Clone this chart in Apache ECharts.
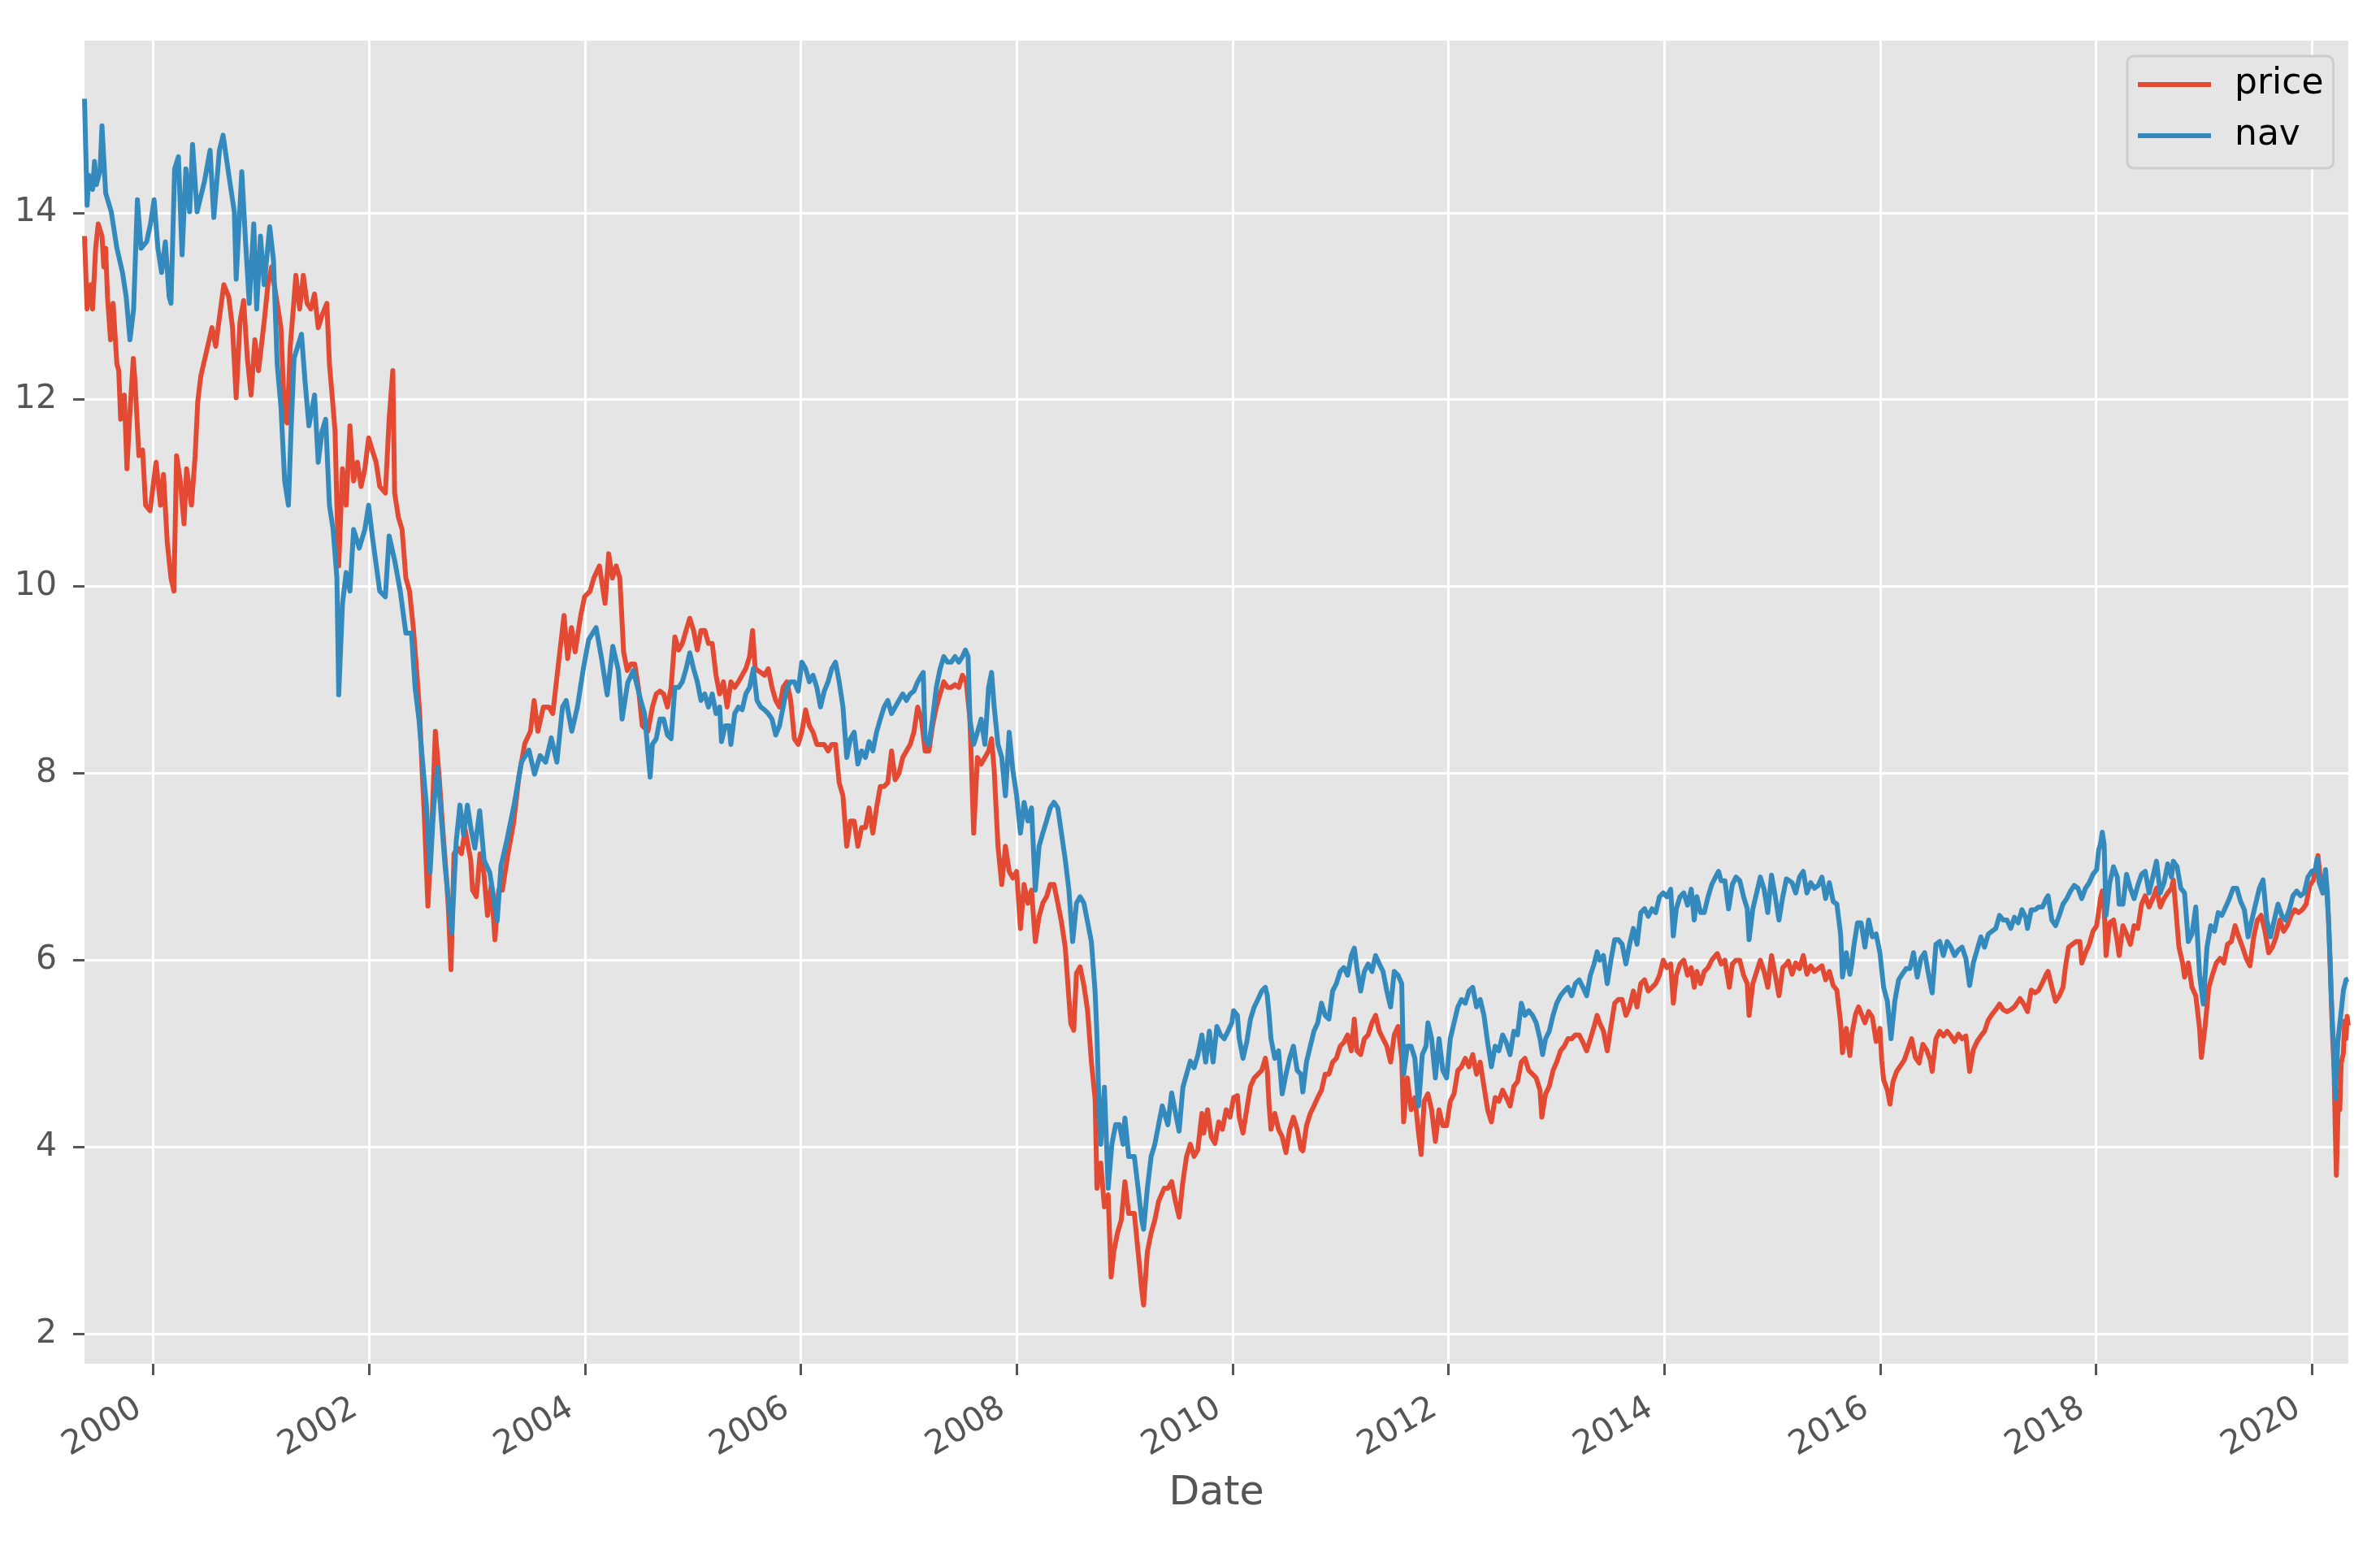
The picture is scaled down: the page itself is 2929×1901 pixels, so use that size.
<!DOCTYPE html>
<html><head><meta charset="utf-8">
<script src="https://cdn.jsdelivr.net/npm/echarts@6/dist/echarts.min.js"></script>
<style>html,body{margin:0;padding:0;background:#fff}#chart{width:2929px;height:1901px}</style>
</head><body><div id="chart"></div>
<script>
// Dates are decimal years
const priceYears = [
1999.365,1999.389,1999.423,1999.440,1999.468,1999.492,1999.527,1999.544,1999.561,1999.578,1999.606,1999.630,1999.665,1999.682,1999.700,1999.734,1999.758,1999.782,1999.817,1999.834,1999.869,1999.903,1999.931,1999.972,
2000.028,2000.069,2000.097,2000.131,2000.166,2000.193,2000.218,2000.252,2000.287,2000.311,2000.356,2000.390,2000.414,2000.442,2000.494,2000.546,2000.580,2000.632,2000.656,2000.701,2000.736,2000.770,2000.805,2000.839,2000.874,2000.908,2000.943,2000.977,
2001.029,2001.064,2001.098,2001.150,2001.185,2001.219,2001.243,2001.271,2001.299,2001.323,2001.358,2001.392,2001.427,2001.461,2001.496,2001.530,2001.565,2001.610,2001.634,2001.668,2001.686,2001.703,2001.720,2001.755,2001.789,2001.824,2001.858,2001.893,2001.927,2001.962,2001.997,
2002.031,2002.066,2002.100,2002.152,2002.187,2002.221,2002.238,2002.273,2002.307,2002.342,2002.376,2002.411,2002.442,2002.470,2002.494,2002.511,2002.546,2002.580,2002.615,2002.649,2002.684,2002.718,2002.736,2002.760,2002.788,2002.822,2002.857,2002.891,2002.943,2002.960,2002.995,
2003.029,2003.064,2003.098,2003.133,2003.167,2003.202,2003.236,2003.288,2003.340,2003.392,2003.444,2003.496,2003.530,2003.565,2003.616,2003.668,2003.703,2003.755,2003.807,2003.841,2003.876,2003.910,2003.962,2003.997,
2004.048,2004.083,2004.135,2004.187,2004.221,2004.255,2004.290,2004.324,2004.359,2004.393,2004.428,2004.462,2004.497,2004.532,2004.584,2004.626,2004.661,2004.696,2004.730,2004.765,2004.799,2004.834,2004.869,2004.903,2004.938,2004.972,
2005.007,2005.042,2005.076,2005.111,2005.145,2005.180,2005.215,2005.249,2005.284,2005.318,2005.353,2005.388,2005.422,2005.457,2005.491,2005.526,2005.554,2005.578,2005.630,2005.664,2005.699,2005.734,2005.768,2005.803,2005.837,2005.872,2005.907,2005.941,2005.976,
2006.010,2006.045,2006.080,2006.114,2006.149,2006.183,2006.218,2006.253,2006.287,2006.322,2006.356,2006.391,2006.426,2006.460,2006.495,2006.529,2006.564,2006.599,2006.633,2006.668,2006.702,2006.737,2006.772,2006.806,2006.841,2006.875,2006.910,2006.945,2006.979,
2007.014,2007.048,2007.083,2007.118,2007.152,2007.187,2007.221,2007.256,2007.291,2007.325,2007.360,2007.394,2007.429,2007.464,2007.498,2007.533,2007.567,2007.602,2007.637,2007.671,2007.706,2007.740,2007.768,2007.792,2007.827,2007.862,2007.896,2007.931,2007.965,
2008.000,2008.035,2008.069,2008.104,2008.138,2008.173,2008.208,2008.242,2008.277,2008.311,2008.346,2008.381,2008.415,2008.450,2008.484,2008.502,2008.529,2008.554,2008.588,2008.623,2008.657,2008.692,2008.727,2008.744,2008.779,2008.813,2008.848,2008.875,2008.900,2008.934,2008.969,
2009.003,2009.038,2009.090,2009.125,2009.159,2009.176,2009.211,2009.246,2009.280,2009.315,2009.367,2009.401,2009.436,2009.471,2009.505,2009.540,2009.574,2009.609,2009.644,2009.678,2009.716,2009.733,2009.768,2009.803,2009.837,2009.872,2009.906,2009.941,2009.976,
2010.010,2010.045,2010.062,2010.097,2010.131,2010.166,2010.201,2010.235,2010.270,2010.304,2010.322,2010.339,2010.356,2010.391,2010.426,2010.460,2010.495,2010.529,2010.564,2010.599,2010.633,2010.651,2010.685,2010.720,2010.754,2010.789,2010.824,2010.858,2010.893,2010.927,2010.962,2010.997,
2011.031,2011.066,2011.100,2011.128,2011.152,2011.187,2011.221,2011.256,2011.291,2011.325,2011.360,2011.394,2011.429,2011.464,2011.498,2011.533,2011.567,2011.585,2011.619,2011.654,2011.689,2011.723,2011.747,2011.775,2011.810,2011.844,2011.879,2011.913,2011.948,2011.983,
2012.017,2012.052,2012.087,2012.121,2012.156,2012.190,2012.225,2012.260,2012.294,2012.329,2012.363,2012.398,2012.433,2012.467,2012.502,2012.536,2012.571,2012.606,2012.640,2012.675,2012.709,2012.744,2012.779,2012.813,2012.848,2012.865,2012.900,2012.934,2012.969,
2013.003,2013.038,2013.073,2013.107,2013.142,2013.176,2013.211,2013.246,2013.280,2013.315,2013.349,2013.377,2013.401,2013.436,2013.471,2013.505,2013.540,2013.574,2013.609,2013.644,2013.678,2013.713,2013.747,2013.782,2013.817,2013.851,2013.886,2013.920,2013.955,2013.990,
2014.024,2014.059,2014.083,2014.111,2014.145,2014.180,2014.215,2014.249,2014.277,2014.301,2014.336,2014.370,2014.405,2014.439,2014.474,2014.491,2014.526,2014.561,2014.602,2014.630,2014.664,2014.699,2014.734,2014.768,2014.785,2014.820,2014.855,2014.889,2014.924,2014.958,2014.993,
2015.028,2015.062,2015.097,2015.131,2015.148,2015.183,2015.217,2015.252,2015.287,2015.321,2015.356,2015.390,2015.425,2015.460,2015.494,2015.529,2015.564,2015.598,2015.633,2015.650,2015.685,2015.719,2015.737,2015.771,2015.799,2015.858,2015.893,2015.927,2015.962,2015.997,
2016.014,2016.031,2016.066,2016.090,2016.118,2016.152,2016.187,2016.222,2016.256,2016.291,2016.325,2016.360,2016.395,2016.429,2016.464,2016.481,2016.516,2016.551,2016.585,2016.620,2016.655,2016.689,2016.724,2016.758,2016.793,2016.828,2016.862,2016.897,2016.932,2016.966,
2017.001,2017.035,2017.070,2017.105,2017.139,2017.174,2017.209,2017.243,2017.295,2017.330,2017.364,2017.399,2017.434,2017.468,2017.503,2017.538,2017.555,2017.590,2017.624,2017.659,2017.693,2017.717,2017.745,2017.780,2017.815,2017.849,2017.867,2017.901,2017.936,2017.971,
2018.005,2018.040,2018.057,2018.074,2018.092,2018.126,2018.161,2018.196,2018.213,2018.248,2018.282,2018.317,2018.352,2018.386,2018.421,2018.455,2018.490,2018.525,2018.559,2018.594,2018.629,2018.663,2018.698,2018.715,2018.743,2018.767,2018.801,2018.819,2018.854,2018.888,2018.923,2018.958,2018.975,
2019.010,2019.044,2019.079,2019.113,2019.148,2019.183,2019.217,2019.252,2019.287,2019.321,2019.356,2019.390,2019.425,2019.460,2019.494,2019.529,2019.564,2019.598,2019.633,2019.667,2019.702,2019.737,2019.771,2019.806,2019.841,2019.875,2019.910,2019.945,2019.979,
2020.014,2020.055,2020.083,2020.100,2020.135,2020.153,2020.170,2020.187,2020.204,2020.215,2020.225,2020.235,2020.245,2020.257,2020.270,2020.290,2020.302,2020.315,2020.325,2020.336
];
const priceValues = [
13.75,12.97,13.23,12.97,13.62,13.88,13.75,13.42,13.62,13.10,12.64,13.03,12.38,12.31,11.79,12.05,11.26,11.79,12.44,12.18,11.40,11.46,10.87,10.81,
11.33,10.87,11.20,10.48,10.09,9.95,11.40,11.13,10.67,11.26,10.87,11.40,11.98,12.25,12.51,12.77,12.57,13.03,13.23,13.10,12.77,12.02,12.83,13.06,12.44,12.05,12.64,12.31,
12.83,13.23,13.42,13.03,12.77,11.79,11.75,12.57,12.97,13.33,12.97,13.33,13.03,12.97,13.13,12.77,12.90,13.03,12.38,11.92,11.66,10.87,10.22,11.26,10.87,11.72,11.13,11.33,11.07,11.26,11.59,
11.46,11.33,11.07,11.00,11.79,12.31,11.00,10.74,10.61,10.09,9.95,9.56,9.10,8.64,7.99,7.60,6.58,7.34,8.45,7.99,7.40,6.88,6.55,5.90,7.14,7.20,7.14,7.40,7.07,6.75,6.68,
7.14,6.94,6.48,6.81,6.22,6.75,6.75,7.14,7.47,7.99,8.32,8.45,8.78,8.45,8.71,8.71,8.64,9.17,9.69,9.23,9.56,9.30,9.69,9.89,
9.95,10.09,10.22,9.82,10.35,10.09,10.22,10.09,9.30,9.10,9.17,9.17,8.91,8.51,8.45,8.71,8.85,8.88,8.85,8.71,8.92,9.46,9.32,9.39,9.53,9.66,
9.53,9.32,9.53,9.53,9.39,9.39,9.05,8.85,8.98,8.71,8.98,8.92,8.98,9.05,9.12,9.25,9.53,9.12,9.08,9.05,9.12,8.92,8.78,8.71,8.92,8.98,8.78,8.37,8.31,
8.44,8.68,8.51,8.44,8.31,8.31,8.31,8.24,8.31,8.31,7.90,7.76,7.22,7.49,7.49,7.22,7.42,7.42,7.63,7.36,7.63,7.86,7.86,7.90,8.24,7.93,8.00,8.17,8.24,
8.31,8.44,8.71,8.58,8.24,8.24,8.51,8.71,8.85,8.98,8.92,8.92,8.95,8.92,9.05,8.98,8.58,7.36,8.17,8.10,8.17,8.24,8.37,8.03,7.22,6.81,7.22,6.95,6.88,
6.95,6.34,6.81,6.61,6.75,6.20,6.47,6.61,6.68,6.81,6.81,6.61,6.41,6.14,5.59,5.32,5.25,5.86,5.93,5.73,5.46,4.92,4.51,3.56,3.83,3.36,3.49,2.61,2.88,3.08,3.22,
3.63,3.29,3.29,2.88,2.47,2.31,2.88,3.08,3.22,3.42,3.56,3.56,3.63,3.42,3.25,3.63,3.90,4.03,3.90,3.97,4.36,4.15,4.40,4.11,4.04,4.27,4.19,4.40,4.32,
4.53,4.55,4.32,4.15,4.40,4.65,4.74,4.78,4.82,4.95,4.82,4.44,4.19,4.36,4.19,4.11,3.94,4.19,4.32,4.19,3.98,3.96,4.23,4.36,4.44,4.53,4.61,4.78,4.78,4.91,4.95,5.08,
5.12,5.20,5.03,5.37,5.03,4.99,5.16,5.20,5.33,5.41,5.24,5.16,5.08,4.91,5.20,5.29,4.95,4.27,4.74,4.40,4.53,4.15,3.92,4.49,4.57,4.40,4.06,4.40,4.23,4.23,
4.49,4.57,4.82,4.86,4.95,4.86,4.99,4.78,4.91,4.65,4.40,4.27,4.53,4.49,4.61,4.53,4.44,4.65,4.70,4.91,4.95,4.82,4.78,4.74,4.61,4.32,4.57,4.65,4.82,
4.91,5.03,5.08,5.16,5.16,5.20,5.20,5.12,5.03,5.16,5.29,5.41,5.33,5.24,5.03,5.29,5.54,5.58,5.58,5.41,5.50,5.67,5.50,5.75,5.79,5.67,5.71,5.75,5.84,6.00,
5.92,5.96,5.54,5.84,5.96,6.00,5.84,5.92,5.71,5.88,5.75,5.88,5.92,6.00,6.05,6.07,5.96,6.00,5.71,5.96,6.00,6.00,5.84,5.75,5.41,5.75,5.88,6.00,5.88,5.71,6.05,
5.84,5.62,5.92,5.96,5.99,5.85,5.97,5.91,6.05,5.85,5.94,5.88,5.91,5.94,5.79,5.88,5.73,5.68,5.33,5.01,5.27,4.98,5.21,5.42,5.50,5.33,5.45,5.39,5.13,5.27,
4.93,4.72,4.61,4.46,4.70,4.81,4.87,4.93,5.04,5.16,4.96,4.90,5.10,5.04,4.93,4.81,5.16,5.24,5.19,5.24,5.19,5.13,5.21,5.16,5.19,4.81,5.04,5.13,5.19,5.24,
5.36,5.42,5.47,5.53,5.47,5.45,5.47,5.50,5.59,5.53,5.45,5.68,5.65,5.68,5.76,5.85,5.88,5.71,5.56,5.62,5.71,5.94,6.14,6.17,6.20,6.20,5.97,6.08,6.17,6.31,
6.37,6.66,6.74,6.57,6.05,6.40,6.43,6.20,6.05,6.37,6.28,6.17,6.37,6.34,6.60,6.69,6.57,6.66,6.77,6.57,6.66,6.72,6.77,6.86,6.48,6.14,5.97,5.82,5.97,5.71,5.62,5.27,4.96,
5.30,5.71,5.85,5.97,6.02,5.97,6.17,6.20,6.37,6.25,6.14,6.02,5.94,6.25,6.43,6.48,6.31,6.08,6.14,6.25,6.43,6.31,6.37,6.48,6.54,6.51,6.54,6.60,6.80,
6.86,7.12,6.80,6.72,6.77,6.43,5.88,5.27,4.84,4.20,3.70,4.10,4.60,4.40,4.90,5.00,5.35,5.16,5.40,5.30
];
const navYears = [
1999.365,1999.389,1999.406,1999.440,1999.458,1999.475,1999.509,1999.527,1999.561,1999.613,1999.665,1999.717,1999.751,1999.786,1999.820,1999.855,1999.889,1999.941,1999.976,
2000.010,2000.045,2000.079,2000.114,2000.149,2000.166,2000.200,2000.235,2000.269,2000.304,2000.339,2000.366,2000.408,2000.477,2000.528,2000.563,2000.615,2000.649,2000.701,2000.753,2000.770,2000.822,2000.857,2000.891,2000.933,2000.960,2000.995,
2001.029,2001.081,2001.116,2001.150,2001.185,2001.219,2001.254,2001.278,2001.306,2001.340,2001.375,2001.409,2001.444,2001.496,2001.530,2001.565,2001.599,2001.634,2001.668,2001.703,2001.720,2001.755,2001.789,2001.824,2001.858,2001.910,2001.962,2001.997,
2002.031,2002.100,2002.152,2002.187,2002.238,2002.290,2002.342,2002.394,2002.428,2002.463,2002.497,2002.532,2002.566,2002.601,2002.636,2002.670,2002.705,2002.739,2002.767,2002.808,2002.843,2002.877,2002.912,2002.946,2002.981,
2003.026,2003.067,2003.119,2003.154,2003.188,2003.223,2003.275,2003.344,2003.413,2003.482,2003.534,2003.585,2003.637,2003.689,2003.741,2003.793,2003.827,2003.879,2003.931,2003.983,
2004.035,2004.104,2004.155,2004.207,2004.259,2004.311,2004.345,2004.397,2004.449,2004.518,2004.553,2004.605,2004.626,2004.661,2004.696,2004.730,2004.765,2004.799,2004.834,2004.869,2004.903,2004.938,2004.972,
2005.007,2005.042,2005.076,2005.111,2005.145,2005.180,2005.215,2005.249,2005.266,2005.301,2005.336,2005.353,2005.388,2005.422,2005.457,2005.491,2005.526,2005.561,2005.595,2005.630,2005.664,2005.699,2005.734,2005.768,2005.803,2005.837,2005.872,2005.907,2005.941,2005.976,
2006.010,2006.045,2006.080,2006.114,2006.149,2006.183,2006.218,2006.253,2006.287,2006.322,2006.356,2006.391,2006.426,2006.460,2006.495,2006.529,2006.564,2006.599,2006.633,2006.668,2006.702,2006.737,2006.772,2006.806,2006.841,2006.875,2006.910,2006.945,2006.979,
2007.014,2007.048,2007.083,2007.118,2007.135,2007.152,2007.187,2007.221,2007.256,2007.291,2007.325,2007.360,2007.394,2007.429,2007.464,2007.498,2007.526,2007.550,2007.567,2007.602,2007.637,2007.671,2007.706,2007.740,2007.768,2007.792,2007.827,2007.862,2007.896,2007.931,2007.965,
2008.000,2008.035,2008.069,2008.104,2008.138,2008.173,2008.208,2008.242,2008.277,2008.311,2008.346,2008.381,2008.415,2008.450,2008.484,2008.519,2008.554,2008.588,2008.623,2008.657,2008.692,2008.727,2008.744,2008.761,2008.779,2008.813,2008.848,2008.882,2008.917,2008.952,2008.986,
2009.003,2009.038,2009.090,2009.125,2009.159,2009.176,2009.211,2009.246,2009.280,2009.315,2009.349,2009.401,2009.436,2009.471,2009.505,2009.540,2009.574,2009.609,2009.644,2009.678,2009.716,2009.751,2009.785,2009.820,2009.855,2009.889,2009.924,2009.958,2009.993,
2010.010,2010.045,2010.062,2010.097,2010.131,2010.166,2010.201,2010.235,2010.270,2010.304,2010.322,2010.339,2010.356,2010.391,2010.426,2010.460,2010.495,2010.529,2010.564,2010.599,2010.633,2010.651,2010.685,2010.720,2010.754,2010.789,2010.824,2010.858,2010.893,2010.927,2010.962,2010.997,
2011.031,2011.066,2011.100,2011.128,2011.152,2011.187,2011.221,2011.256,2011.291,2011.325,2011.360,2011.394,2011.429,2011.464,2011.498,2011.533,2011.567,2011.585,2011.619,2011.654,2011.689,2011.723,2011.758,2011.792,2011.810,2011.844,2011.879,2011.913,2011.948,2011.983,
2012.017,2012.052,2012.087,2012.121,2012.156,2012.190,2012.225,2012.260,2012.294,2012.329,2012.363,2012.398,2012.433,2012.467,2012.502,2012.536,2012.571,2012.606,2012.640,2012.675,2012.709,2012.744,2012.779,2012.813,2012.848,2012.872,2012.900,2012.934,2012.969,
2013.003,2013.038,2013.073,2013.107,2013.142,2013.176,2013.211,2013.246,2013.280,2013.315,2013.349,2013.377,2013.401,2013.436,2013.471,2013.505,2013.540,2013.574,2013.609,2013.644,2013.678,2013.713,2013.747,2013.782,2013.817,2013.851,2013.886,2013.920,2013.955,2013.990,
2014.024,2014.059,2014.083,2014.111,2014.145,2014.180,2014.215,2014.249,2014.277,2014.301,2014.336,2014.370,2014.405,2014.439,2014.474,2014.502,2014.526,2014.561,2014.595,2014.630,2014.664,2014.699,2014.734,2014.768,2014.785,2014.820,2014.855,2014.889,2014.924,2014.958,2014.993,
2015.028,2015.062,2015.097,2015.131,2015.148,2015.183,2015.217,2015.252,2015.287,2015.321,2015.356,2015.390,2015.425,2015.460,2015.494,2015.529,2015.564,2015.598,2015.633,2015.650,2015.685,2015.719,2015.737,2015.754,2015.789,2015.823,2015.858,2015.893,2015.927,2015.962,2015.997,
2016.031,2016.066,2016.100,2016.135,2016.170,2016.204,2016.239,2016.274,2016.308,2016.343,2016.377,2016.412,2016.447,2016.481,2016.516,2016.551,2016.585,2016.620,2016.655,2016.689,2016.724,2016.758,2016.793,2016.828,2016.862,2016.897,2016.932,2016.966,
2017.001,2017.035,2017.070,2017.105,2017.139,2017.174,2017.209,2017.243,2017.278,2017.313,2017.347,2017.364,2017.399,2017.434,2017.468,2017.503,2017.538,2017.555,2017.590,2017.624,2017.659,2017.693,2017.728,2017.763,2017.797,2017.832,2017.867,2017.901,2017.936,2017.971,
2018.005,2018.023,2018.040,2018.057,2018.074,2018.092,2018.126,2018.161,2018.196,2018.213,2018.248,2018.282,2018.317,2018.352,2018.386,2018.421,2018.455,2018.490,2018.525,2018.559,2018.594,2018.629,2018.663,2018.698,2018.715,2018.750,2018.784,2018.819,2018.854,2018.888,2018.923,2018.958,2018.992,
2019.027,2019.061,2019.096,2019.131,2019.165,2019.200,2019.235,2019.269,2019.304,2019.338,2019.373,2019.408,2019.442,2019.477,2019.512,2019.546,2019.581,2019.616,2019.650,2019.685,2019.719,2019.754,2019.789,2019.823,2019.858,2019.893,2019.927,2019.962,2019.997,
2020.031,2020.048,2020.066,2020.100,2020.125,2020.142,2020.163,2020.180,2020.197,2020.215,2020.239,2020.267,2020.291,2020.315,2020.336
];
const navValues = [
15.22,14.08,14.40,14.25,14.55,14.30,14.45,14.93,14.21,14.01,13.62,13.36,13.10,12.64,12.97,14.14,13.62,13.69,13.88,
14.14,13.62,13.36,13.69,13.10,13.03,14.47,14.60,13.55,14.47,14.01,14.73,14.01,14.34,14.67,13.95,14.67,14.83,14.41,14.01,13.29,14.44,13.69,13.03,13.88,12.97,13.75,
13.23,13.85,13.49,12.38,11.92,11.13,10.87,11.66,12.44,12.57,12.70,12.18,11.72,12.05,11.33,11.66,11.79,10.87,10.61,10.09,8.84,9.82,10.15,9.95,10.61,10.41,10.61,10.87,
10.54,9.95,9.89,10.54,10.28,9.95,9.50,9.50,8.91,8.58,8.12,7.66,6.94,7.66,8.06,7.53,7.01,6.62,6.29,7.27,7.66,7.34,7.66,7.40,7.20,
7.60,7.07,6.94,6.68,6.42,7.01,7.27,7.66,8.12,8.25,7.99,8.19,8.12,8.38,8.12,8.71,8.78,8.45,8.71,9.10,
9.43,9.56,9.23,8.84,9.36,9.10,8.58,8.97,9.10,8.78,8.64,7.96,8.31,8.37,8.58,8.58,8.41,8.37,8.92,8.92,8.98,9.12,9.29,
9.12,8.98,8.78,8.85,8.71,8.85,8.64,8.71,8.34,8.51,8.51,8.31,8.64,8.71,8.68,8.85,8.92,9.12,8.78,8.71,8.68,8.64,8.58,8.41,8.51,8.71,8.92,8.98,8.98,8.88,
9.19,9.12,8.98,9.05,8.92,8.71,8.88,8.98,9.12,9.19,8.98,8.71,8.17,8.37,8.44,8.10,8.24,8.17,8.34,8.24,8.44,8.58,8.71,8.78,8.64,8.71,8.78,8.85,8.78,
8.85,8.88,8.98,9.05,9.08,8.37,8.31,8.58,8.92,9.12,9.25,9.19,9.19,9.25,9.19,9.25,9.32,9.25,8.58,8.31,8.44,8.58,8.31,8.92,9.08,8.71,8.31,8.17,7.76,8.44,8.03,
7.76,7.36,7.69,7.49,7.63,6.75,7.22,7.36,7.49,7.63,7.69,7.63,7.36,7.08,6.75,6.20,6.61,6.68,6.61,6.41,6.20,5.66,5.19,4.51,4.03,4.64,3.56,4.03,4.24,4.24,4.03,
4.31,3.90,3.90,3.56,3.22,3.12,3.56,3.90,4.03,4.24,4.44,4.24,4.58,4.37,4.17,4.64,4.78,4.92,4.85,4.98,5.20,4.91,5.24,4.91,5.29,5.20,5.16,5.24,5.33,
5.46,5.41,5.16,4.95,5.12,5.37,5.50,5.58,5.67,5.71,5.62,5.41,5.16,4.95,5.03,4.57,4.78,4.95,5.08,4.82,4.78,4.59,4.91,5.08,5.24,5.33,5.54,5.41,5.37,5.67,5.75,5.88,
5.92,5.84,6.05,6.13,5.92,5.67,5.88,5.96,5.88,6.05,5.96,5.88,5.67,5.50,5.88,5.84,5.75,4.78,5.08,5.08,4.95,4.44,4.99,5.08,5.33,5.16,4.74,5.16,4.82,4.74,
5.16,5.33,5.50,5.58,5.54,5.67,5.71,5.50,5.58,5.41,5.12,4.86,5.08,5.03,5.20,5.12,4.99,5.24,5.20,5.54,5.41,5.46,5.41,5.33,5.16,4.99,5.16,5.24,5.41,
5.54,5.62,5.67,5.71,5.62,5.75,5.79,5.71,5.62,5.84,5.96,6.09,6.00,6.05,5.75,6.00,6.22,6.22,6.17,5.96,6.17,6.34,6.17,6.51,6.55,6.47,6.55,6.51,6.68,6.72,
6.68,6.76,6.26,6.55,6.68,6.72,6.59,6.76,6.43,6.68,6.51,6.51,6.68,6.81,6.89,6.95,6.85,6.85,6.55,6.81,6.89,6.85,6.68,6.55,6.22,6.55,6.72,6.89,6.76,6.51,6.91,
6.68,6.43,6.68,6.87,6.86,6.83,6.72,6.89,6.95,6.72,6.83,6.77,6.80,6.89,6.66,6.83,6.63,6.60,6.28,5.82,6.08,5.85,5.97,6.14,6.40,6.40,6.14,6.43,6.25,6.28,6.08,
5.71,5.56,5.16,5.56,5.79,5.85,5.91,5.91,6.08,5.82,6.02,6.08,5.85,5.65,6.17,6.20,6.05,6.20,6.14,6.05,6.11,6.14,6.02,5.73,5.97,6.11,6.25,6.14,
6.28,6.31,6.34,6.48,6.43,6.43,6.34,6.46,6.40,6.54,6.46,6.34,6.54,6.54,6.57,6.57,6.66,6.69,6.43,6.37,6.48,6.60,6.66,6.74,6.80,6.77,6.66,6.77,6.83,6.92,
6.97,7.18,7.24,7.37,7.24,6.48,6.83,7.00,6.89,6.60,6.60,6.92,6.77,6.66,6.80,6.92,6.95,6.72,6.89,7.06,6.72,6.83,7.03,6.89,7.06,7.00,6.77,6.72,6.20,6.28,6.57,5.85,5.53,
6.14,6.37,6.31,6.51,6.48,6.57,6.66,6.77,6.77,6.63,6.54,6.25,6.43,6.60,6.77,6.86,6.43,6.25,6.43,6.60,6.48,6.43,6.54,6.69,6.74,6.69,6.72,6.89,6.95,
6.97,7.09,6.83,6.72,6.97,6.72,6.14,5.56,5.13,4.52,5.13,5.42,5.68,5.79,5.80
];
const seriesNames = ['price', 'nav'];
const seriesColors = ['#E24A33', '#348ABD'];
const xTickYears = [2000, 2002, 2004, 2006, 2008, 2010, 2012, 2014, 2016, 2018, 2020];
const yTickValues = [2, 4, 6, 8, 10, 12, 14];
const xRange = [1999.365, 2020.336];
const yRange = [1.681, 15.842];
const xAxisTitle = 'Date';

function pairs(xs, ys) { return xs.map((x, i) => [x, ys[i]]); }

const FONT = 'DejaVu Sans';
const chart = echarts.init(document.getElementById('chart'), null, { renderer: 'canvas' });
chart.setOption({
  animation: false,
  backgroundColor: '#FFFFFF',
  grid: { left: 104, top: 50, right: 39, bottom: 223, show: true, backgroundColor: '#E5E5E5', borderWidth: 0, containLabel: false },
  legend: {
    data: seriesNames, orient: 'vertical', left: 2618, top: 69,
    backgroundColor: '#E5E5E5', borderColor: '#CDCDCD', borderWidth: 3, borderRadius: 8,
    padding: [13, 12, 18, 13], itemGap: 19, itemWidth: 90, itemHeight: 6,
    icon: 'rect', itemStyle: { borderWidth: 0 },
    textStyle: { fontFamily: FONT, fontSize: 44, color: '#000000', padding: [0, 0, 0, 24] }
  },
  xAxis: {
    type: 'value', min: xRange[0], max: xRange[1],
    name: xAxisTitle, nameLocation: 'middle', nameGap: 136,
    nameTextStyle: { fontFamily: FONT, fontSize: 49, color: '#555555' },
    axisLine: { show: false },
    axisTick: { show: true, length: 14, customValues: xTickYears, lineStyle: { color: '#555555', width: 3 } },
    axisLabel: { customValues: xTickYears, rotate: 30, margin: 42, padding: [0, 20, 0, 0], fontFamily: FONT, fontSize: 41, color: '#555555',
      formatter: v => String(Math.round(v)) },
    splitLine: { show: true, lineStyle: { color: '#FFFFFF', width: 3 } }
  },
  yAxis: {
    type: 'value', min: yRange[0], max: yRange[1],
    axisLine: { show: false },
    axisTick: { show: true, length: 14, customValues: yTickValues, lineStyle: { color: '#555555', width: 3 } },
    axisLabel: { customValues: yTickValues, margin: 34, fontFamily: FONT, fontSize: 41, color: '#555555' },
    splitLine: { show: true, lineStyle: { color: '#FFFFFF', width: 3 } }
  },
  series: [
    { name: seriesNames[0], type: 'line', data: pairs(priceYears, priceValues), showSymbol: false, symbol: 'none',
      lineStyle: { color: seriesColors[0], width: 6, join: 'round' }, itemStyle: { color: seriesColors[0] } },
    { name: seriesNames[1], type: 'line', data: pairs(navYears, navValues), showSymbol: false, symbol: 'none',
      lineStyle: { color: seriesColors[1], width: 6, join: 'round' }, itemStyle: { color: seriesColors[1] } }
  ]
});
</script></body></html>
